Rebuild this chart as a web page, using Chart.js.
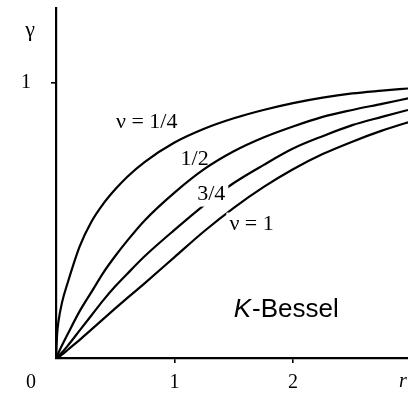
<!DOCTYPE html>
<html>
<head>
<meta charset="utf-8">
<script src="https://cdn.jsdelivr.net/npm/chart.js@4"></script>
<style>
  html, body { margin: 0; padding: 0; background: #fff; }
  #wrap { width: 408px; height: 402px; }
</style>
</head>
<body>
<div id="wrap"><canvas id="kbessel"></canvas></div>
<script>
// lag distance r and semivariogram values for each smoothness nu
const r      = [0, 0.01, 0.02, 0.05, 0.1, 0.2, 0.3, 0.4, 0.5, 0.6, 0.75, 1, 1.25, 1.5, 1.75, 2, 2.25, 2.5, 2.75, 2.97];
const nuQ1   = [0, 0.09, 0.13, 0.20, 0.275, 0.405, 0.495, 0.56, 0.612, 0.657, 0.712, 0.782, 0.832, 0.87, 0.90, 0.925, 0.945, 0.96, 0.97, 0.978];
const nuHalf = [0, 0.009, 0.018, 0.045, 0.088, 0.17, 0.24, 0.31, 0.37, 0.425, 0.50, 0.60, 0.685, 0.75, 0.80, 0.84, 0.875, 0.90, 0.922, 0.942];
const nuQ3   = [0, 0.003, 0.007, 0.02, 0.045, 0.10, 0.155, 0.21, 0.26, 0.305, 0.37, 0.465, 0.555, 0.635, 0.70, 0.76, 0.805, 0.845, 0.875, 0.90];
const nuOne  = [0, 0.001, 0.003, 0.012, 0.03, 0.066, 0.104, 0.142, 0.18, 0.217, 0.272, 0.366, 0.46, 0.545, 0.62, 0.685, 0.74, 0.785, 0.825, 0.855];

const xTicks = [1, 2];
const yTicks = [1];

// curve labels: text, position in data units, white box behind?
const curveLabels = [
  { text: 'ν = 1/4', x: 0.765, y: 0.855, box: false },
  { text: '1/2',     x: 1.17,  y: 0.72,  box: false },
  { text: '3/4',     x: 1.31,  y: 0.593, box: true },
  { text: 'ν = 1',   x: 1.65,  y: 0.484, box: true }
];

const SERIF = '"Liberation Serif", "DejaVu Serif", serif';
const SANS = '"Liberation Sans", Arial, sans-serif';

function series(vals) {
  return {
    data: r.map((v, i) => ({ x: v, y: vals[i] })),
    borderColor: '#000',
    borderWidth: 2.2,
    pointRadius: 0,
    fill: false,
    cubicInterpolationMode: 'monotone'
  };
}

const labelsPlugin = {
  id: 'labels',
  afterDatasetsDraw(chart) {
    const ctx = chart.ctx;
    const xs = chart.scales.x, ys = chart.scales.y;
    ctx.save();
    ctx.textAlign = 'center';
    ctx.textBaseline = 'middle';
    ctx.font = '22px ' + SERIF;
    curveLabels.forEach(l => {
      const px = xs.getPixelForValue(l.x), py = ys.getPixelForValue(l.y);
      if (l.box) {
        const w = ctx.measureText(l.text).width;
        ctx.fillStyle = '#fff';
        ctx.fillRect(px - w / 2 - 3, py - 12, w + 6, 24);
      }
      ctx.fillStyle = '#000';
      ctx.fillText(l.text, px, py);
    });

    // axis names and origin
    ctx.font = '20px ' + SERIF;
    ctx.fillText('0', 31, 383);
    ctx.font = '22px ' + SERIF;
    ctx.fillText('γ', 30, 30);
    ctx.font = 'italic 20px ' + SERIF;
    ctx.fillText('r', 403, 382);

    // K-Bessel caption
    ctx.textAlign = 'left';
    ctx.font = 'italic 26px ' + SANS;
    const kx = xs.getPixelForValue(1.5), ky = ys.getPixelForValue(0.175);
    ctx.fillText('K', kx, ky);
    const kw = ctx.measureText('K').width;
    ctx.font = '26px ' + SANS;
    ctx.fillText('-Bessel', kx + kw + 1, ky);
    ctx.restore();
  }
};

new Chart(document.getElementById('kbessel'), {
  type: 'line',
  data: {
    datasets: [series(nuQ1), series(nuHalf), series(nuQ3), series(nuOne)]
  },
  options: {
    responsive: true,
    maintainAspectRatio: false,
    animation: false,
    layout: { padding: { top: 8, right: 0, left: 0, bottom: 0 } },
    plugins: { legend: { display: false }, tooltip: { enabled: false } },
    scales: {
      x: {
        type: 'linear',
        min: 0,
        max: 2.97,
        afterBuildTicks: s => { s.ticks = xTicks.map(v => ({ value: v })); },
        afterFit: s => { s.height = 44; },
        border: { display: true, color: '#000', width: 2.2 },
        grid: { drawOnChartArea: false, drawTicks: true, tickLength: 5, color: '#000', lineWidth: 1.6 },
        ticks: { color: '#000', font: { family: SERIF, size: 20 }, padding: 8, maxRotation: 0 }
      },
      y: {
        type: 'linear',
        min: 0,
        max: 1.27,
        afterBuildTicks: s => { s.ticks = yTicks.map(v => ({ value: v })); },
        // keep the tick label gap from pushing the plot top down
        afterFit: s => { s.width = 56; s.paddingTop = 0; s.paddingBottom = 0; },
        border: { display: true, color: '#000', width: 2.2 },
        grid: { drawOnChartArea: false, drawTicks: true, tickLength: 5, color: '#000', lineWidth: 1.6 },
        ticks: { color: '#000', font: { family: SERIF, size: 20 }, padding: 20 }
      }
    }
  },
  plugins: [labelsPlugin]
});
</script>
</body>
</html>
